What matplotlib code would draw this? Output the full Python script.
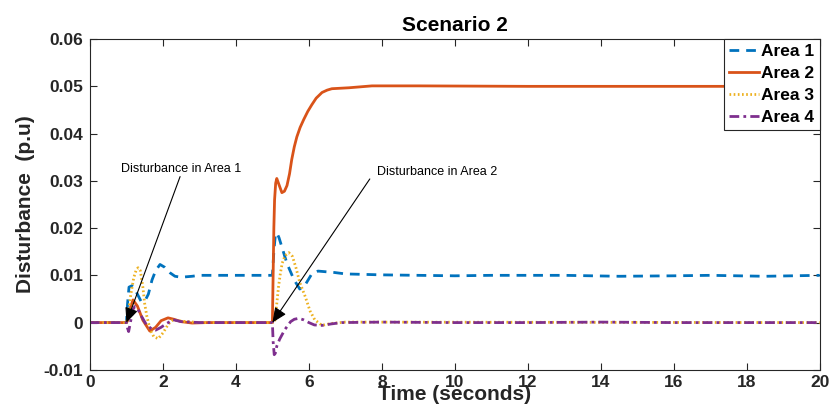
import matplotlib
matplotlib.use("Agg")
import matplotlib.pyplot as plt

plt.rcParams['font.family'] = ['Liberation Sans', 'DejaVu Sans']

# ---- data ----
t1 = [0, 1.0, 1.03, 1.07, 1.15, 1.25, 1.4, 1.5, 1.6, 1.7, 1.8, 1.92, 2.05, 2.2, 2.33, 2.5, 2.8, 3.0, 4.0,
      5.0, 5.04, 5.08, 5.12, 5.18, 5.26, 5.4, 5.59, 5.75, 5.9, 6.08, 6.25, 6.4, 6.7, 7.0, 8.0, 9.0, 10.0,
      11.0, 12.0, 13.0, 14.5, 16.0, 17.0, 18.5, 20.0]
v1 = [0, 0, 0.004, 0.0075, 0.0078, 0.0068, 0.0045, 0.0045, 0.006, 0.009, 0.0110, 0.0123, 0.0117, 0.0105,
      0.0098, 0.0096, 0.0098, 0.0100, 0.0100, 0.0100, 0.0150, 0.0185, 0.0190, 0.0180, 0.0160, 0.0125,
      0.0091, 0.0071, 0.0080, 0.0103, 0.0109, 0.0108, 0.0106, 0.0103, 0.0101, 0.0100, 0.0099, 0.0100,
      0.0100, 0.0100, 0.0098, 0.0099, 0.0100, 0.0098, 0.0100]

t2 = [0, 1.0, 1.04, 1.1, 1.18, 1.3, 1.45, 1.64, 1.8, 1.95, 2.14, 2.3, 2.5, 2.8, 3.2, 5.0, 5.02, 5.04,
      5.06, 5.09, 5.12, 5.19, 5.26, 5.33, 5.4, 5.47, 5.53, 5.6, 5.67, 5.76, 5.86, 5.97, 6.08, 6.2, 6.36,
      6.5, 6.63, 7.1, 7.73, 9, 12, 15, 18, 20]
v2 = [0, 0, 0.0005, 0.003, 0.0048, 0.0035, 0.0005, -0.0018, -0.001, 0.0004, 0.001, 0.0007, 0.0002,
      -0.0001, 0.0, 0.0, 0.010, 0.020, 0.026, 0.0295, 0.0305, 0.0290, 0.0275, 0.0278, 0.0290, 0.0315,
      0.0345, 0.0372, 0.0393, 0.0413, 0.0430, 0.0447, 0.0461, 0.0475, 0.0487, 0.0492, 0.0495, 0.0497,
      0.0501, 0.0501, 0.0500, 0.0500, 0.0500, 0.0500]

t3 = [0, 1.0, 1.05, 1.12, 1.2, 1.27, 1.32, 1.38, 1.45, 1.5, 1.56, 1.65, 1.75, 1.87, 2.0, 2.15, 2.28,
      2.5, 3.0, 5.0, 5.07, 5.12, 5.17, 5.22, 5.27, 5.35, 5.45, 5.55, 5.65, 5.75, 5.9, 6.03, 6.16, 6.36,
      6.6, 7.0, 20]
v3 = [0, 0, 0.002, 0.006, 0.0095, 0.0112, 0.0116, 0.011, 0.0075, 0.004, 0.0013, -0.0015, -0.003,
      -0.0034, -0.0022, -0.0003, 0.0006, 0.0003, 0, 0, 0.0005, 0.004, 0.0077, 0.0105, 0.0126, 0.0142,
      0.0148, 0.0140, 0.0115, 0.0085, 0.0055, 0.0025, 0.0006, -0.0006, -0.0002, 0.0001, 0]

t4 = [0, 1.0, 1.03, 1.06, 1.12, 1.18, 1.23, 1.3, 1.4, 1.55, 1.7, 1.8, 1.95, 2.1, 2.28, 2.5, 3.0, 5.0,
      5.02, 5.05, 5.08, 5.12, 5.2, 5.34, 5.5, 5.6, 5.72, 5.85, 6.0, 6.15, 6.36, 6.6, 6.9, 8, 10, 12, 14,
      16, 18, 20]
v4 = [0, 0, -0.0012, -0.0019, 0.0005, 0.0028, 0.0034, 0.0030, 0.0015, -0.0005, -0.0014, -0.0016,
      -0.001, -0.0002, 0.0006, 0.0002, 0, 0, -0.004, -0.0068, -0.0065, -0.005, -0.0035, -0.0015, 0.0002,
      0.0007, 0.0009, 0.0006, 0.0, -0.0005, -0.0006, -0.0003, 0.0, 0.0001, 0, 0, 0.0001, 0, 0, 0]

labels = ['Area 1', 'Area 2', 'Area 3', 'Area 4']
colors = ['#0072BD', '#D95319', '#EDB120', '#7E2F8E']

xticks = [0, 2, 4, 6, 8, 10, 12, 14, 16, 18, 20]
yticks = [-0.01, 0, 0.01, 0.02, 0.03, 0.04, 0.05, 0.06]
ytick_labels = ['-0.01', '0', '0.01', '0.02', '0.03', '0.04', '0.05', '0.06']

ann_texts = ['Disturbance in Area 1', 'Disturbance in Area 2']
ann_targets = [(1.0, 0.0), (5.0, 0.0)]
ann_tails = [(2.47, 0.0309), (7.67, 0.0304)]
ann_text_pos = [(0.85, 0.0326), (7.86, 0.0319)]

# ---- figure ----
fig = plt.figure(figsize=(8.33, 4.16), dpi=100)
ax = fig.add_axes([0.108, 0.111, 0.876, 0.795])

lw = 2.0
ax.plot(t1, v1, color=colors[0], lw=lw, linestyle=(0, (3.5, 2.5)), label=labels[0])
ax.plot(t2, v2, color=colors[1], lw=lw, linestyle='-', label=labels[1])
ax.plot(t3, v3, color=colors[2], lw=lw, linestyle=(0, (0.6, 0.9)), label=labels[2])
ax.plot(t4, v4, color=colors[3], lw=lw, linestyle=(0, (3.5, 1.5, 1.0, 1.5)), label=labels[3])

ax.set_xlim(0, 20)
ax.set_ylim(-0.01, 0.06)
ax.set_xticks(xticks)
ax.set_xticklabels([str(x) for x in xticks])
ax.set_yticks(yticks)
ax.set_yticklabels(ytick_labels)

for lab in ax.get_xticklabels() + ax.get_yticklabels():
    lab.set_fontweight('bold')
    lab.set_fontsize(12.5)

ax.tick_params(direction='in', length=5, width=0.8, top=True, right=True, colors='#262626')
ax.tick_params(axis='x', pad=4)
ax.tick_params(axis='y', pad=5)
for lab in ax.get_xticklabels() + ax.get_yticklabels():
    lab.set_color('#262626')
for sp in ax.spines.values():
    sp.set_linewidth(0.8)
    sp.set_color('#262626')

ax.set_title('Scenario 2', fontsize=15, fontweight='bold', pad=6)
ax.set_xlabel('Time (seconds)', fontsize=15, fontweight='bold', color='#262626')
ax.xaxis.set_label_coords(0.5, -0.045)
ax.set_ylabel('Disturbance  (p.u)', fontsize=15, fontweight='bold', color='#262626')
ax.yaxis.set_label_coords(-0.075, 0.5)

for txt, tgt, tail, tp in zip(ann_texts, ann_targets, ann_tails, ann_text_pos):
    ax.annotate('', xy=tgt, xytext=tail,
                arrowprops=dict(arrowstyle='-|>,head_length=0.9,head_width=0.4',
                                color='black', lw=0.8, shrinkA=0, shrinkB=0, mutation_scale=10))
    ax.text(tp[0], tp[1], txt, fontsize=9, ha='left', va='center', color='black')

leg = ax.legend(loc='upper right', bbox_to_anchor=(1.0, 1.0), borderaxespad=0.0,
                prop={'weight': 'bold', 'size': 12.5}, handlelength=1.75, handletextpad=0.12,
                labelspacing=0.38, borderpad=0.3, fancybox=False, framealpha=1.0)
leg.get_frame().set_edgecolor('#262626')
leg.get_frame().set_linewidth(0.8)

fig.savefig('out.png', dpi=100)
